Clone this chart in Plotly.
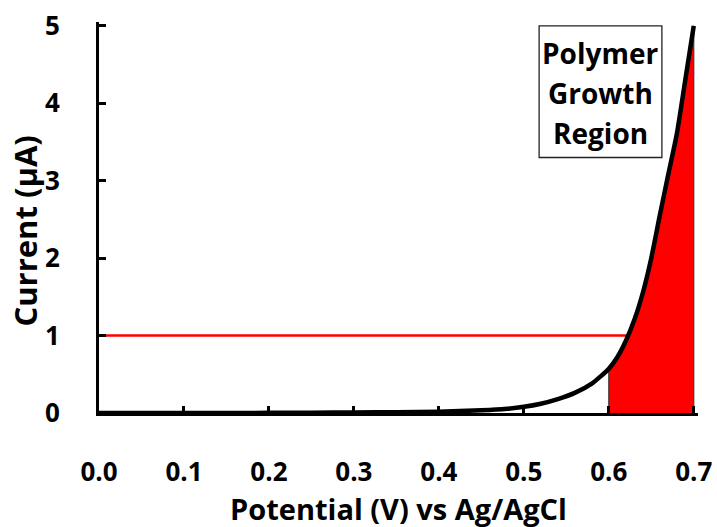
import numpy as np
import plotly.graph_objects as go

# Linear sweep: potential (V vs Ag/AgCl) and measured current (uA)
potential = [0.00, 0.05, 0.10, 0.15, 0.20, 0.25, 0.30, 0.35, 0.40, 0.45, 0.48,
             0.50, 0.52, 0.54, 0.56, 0.58, 0.60, 0.61, 0.62, 0.63, 0.64, 0.65,
             0.66, 0.67, 0.68, 0.69, 0.70]
current = [0.000, 0.000, 0.000, 0.000, 0.002, 0.004, 0.007, 0.011, 0.017, 0.035, 0.055,
           0.080, 0.120, 0.180, 0.260, 0.380, 0.570, 0.720, 0.930, 1.200, 1.550, 2.000,
           2.550, 3.080, 3.600, 4.300, 5.000]

growth_onset = 0.60       # start of the shaded growth window (V)
threshold_current = 1.0   # reference current level (uA)

x_ticks = [0.0, 0.1, 0.2, 0.3, 0.4, 0.5, 0.6, 0.7]
y_ticks = [0, 1, 2, 3, 4, 5]
box_lines = ["Polymer", "Growth", "Region"]

pot = np.array(potential)
cur = np.array(current)

# shaded region under the curve from the onset potential to the end of the sweep
mask = pot >= growth_onset
fill_x = np.concatenate([[pot[mask][0]], pot[mask], [pot[mask][-1]]])
fill_y = np.concatenate([[0.0], cur[mask], [0.0]])

# potential where the current reaches the threshold level
cross_x = float(np.interp(threshold_current, cur, pot))

FONT = "Open Sans"

fig = go.Figure()
fig.add_trace(go.Scatter(
    x=fill_x, y=fill_y, mode="lines", fill="toself",
    fillcolor="#ff0000", line=dict(color="#3a3a3a", width=1.2),
    hoverinfo="skip", showlegend=False))
fig.add_trace(go.Scatter(
    x=[0.0, cross_x], y=[threshold_current, threshold_current], mode="lines",
    line=dict(color="#ff0000", width=2.5), showlegend=False))
fig.add_trace(go.Scatter(
    x=pot, y=cur, mode="lines",
    line=dict(color="black", width=4.5, shape="spline", smoothing=0.6),
    showlegend=False))

axis_common = dict(
    showline=True, linecolor="black", linewidth=3,
    ticks="inside", ticklen=7, tickwidth=3, tickcolor="black",
    showgrid=False, zeroline=False, automargin=False,
    tickfont=dict(family=FONT, size=26, color="black", weight=700),
)

fig.update_xaxes(range=[0, 0.705], tickvals=x_ticks,
                 ticktext=[f"{v:.1f}" for v in x_ticks],
                 ticklabelstandoff=34, **axis_common)
fig.update_yaxes(range=[0, 5.05], tickvals=y_ticks,
                 ticktext=[str(v) for v in y_ticks],
                 ticklabelstandoff=31, **axis_common)

# label box for the growth window
fig.add_shape(type="rect", xref="x", yref="y", x0=0.518, x1=0.6625, y0=3.30, y1=5.0,
              line=dict(color="#222222", width=1.3), fillcolor="white", layer="above")
for text, yy in zip(box_lines, [4.65, 4.135, 3.615]):
    fig.add_annotation(x=0.5902, y=yy, xref="x", yref="y", text=text, showarrow=False,
                       font=dict(family=FONT, size=28, color="black", weight=700),
                       xanchor="center", yanchor="middle")

# axis titles
fig.add_annotation(x=0.5, y=-0.2455, xref="paper", yref="paper",
                   text="Potential (V) vs Ag/AgCl", showarrow=False,
                   font=dict(family=FONT, size=29, color="black", weight=700),
                   xanchor="center", yanchor="middle")
fig.add_annotation(x=-0.124, y=0.466, xref="paper", yref="paper",
                   text="Current (μA)", textangle=-90, showarrow=False,
                   font=dict(family=FONT, size=31, color="black", weight=700),
                   xanchor="center", yanchor="middle")

fig.update_layout(
    width=717, height=527,
    margin=dict(l=99, r=19, t=22, b=114),
    plot_bgcolor="white", paper_bgcolor="white",
)

fig.write_html("out.html")
